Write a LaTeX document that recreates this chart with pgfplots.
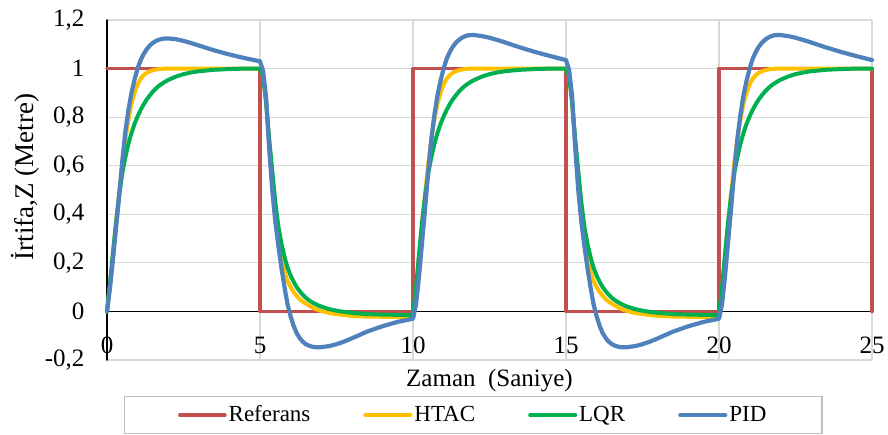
\documentclass[border=0pt]{standalone}
\usepackage{fontspec}
\setmainfont{Liberation Serif}
\usepackage{pgfplots}
\usepackage{pgfplotstable}
\pgfplotsset{compat=1.18}

\definecolor{refred}{HTML}{C0504D}
\definecolor{htacyellow}{HTML}{FFC000}
\definecolor{lqrgreen}{HTML}{00B050}
\definecolor{pidblue}{HTML}{4F81BD}
\definecolor{gridgray}{HTML}{D9D9D9}
\definecolor{framegray}{HTML}{BFBFBF}

% reference altitude (square wave)
\pgfplotstableread{
t ref
0 1
5 1
5 0
10 0
10 1
15 1
15 0
20 0
20 1
25 1
25 0
}\reftable

% responses of the three controllers
\pgfplotstableread{
t pid htac lqr
0 0 0 0
0.1 0.10 0.11 0.12
0.2 0.22 0.24 0.25
0.3 0.35 0.37 0.37
0.4 0.48 0.49 0.48
0.5 0.62 0.61 0.57
0.6 0.74 0.71 0.635
0.7 0.83 0.79 0.69
0.8 0.90 0.855 0.735
0.9 0.955 0.90 0.772
1.0 1.0 0.935 0.803
1.1 1.035 0.958 0.83
1.2 1.06 0.973 0.853
1.3 1.08 0.983 0.873
1.4 1.095 0.989 0.89
1.5 1.106 0.993 0.905
1.6 1.114 0.996 0.918
1.7 1.119 0.998 0.929
1.8 1.122 0.999 0.938
1.9 1.124 1.0 0.946
2.0 1.124 1.0 0.953
2.25 1.121 1.0 0.967
2.5 1.114 1.0 0.977
2.75 1.105 1.0 0.984
3.0 1.095 1.0 0.989
3.5 1.075 1.0 0.995
4.0 1.058 1.0 0.998
4.5 1.043 1.0 1.0
5 1.03 1.0 1.0
5.1 0.99 0.97 0.97
5.2 0.88 0.86 0.86
5.3 0.67 0.70 0.71
5.4 0.50 0.55 0.58
5.5 0.37 0.41 0.45
5.6 0.27 0.30 0.35
5.7 0.18 0.22 0.28
5.8 0.10 0.165 0.225
5.9 0.03 0.125 0.18
6.0 -0.02 0.10 0.148
6.1 -0.06 0.08 0.122
6.2 -0.09 0.064 0.10
6.3 -0.11 0.05 0.083
6.4 -0.125 0.04 0.068
6.5 -0.135 0.032 0.056
6.6 -0.141 0.024 0.046
6.7 -0.145 0.017 0.038
6.8 -0.147 0.011 0.031
6.9 -0.148 0.006 0.025
7.0 -0.147 0.002 0.02
7.25 -0.143 -0.006 0.01
7.5 -0.135 -0.011 0.003
7.75 -0.124 -0.015 -0.002
8.0 -0.111 -0.018 -0.006
8.5 -0.083 -0.021 -0.011
9.0 -0.061 -0.022 -0.013
9.5 -0.043 -0.023 -0.014
10 -0.03 -0.023 -0.015
10.1 0.03 0.09 0.10
10.2 0.15 0.23 0.24
10.3 0.29 0.37 0.37
10.4 0.43 0.49 0.48
10.5 0.58 0.61 0.57
10.6 0.71 0.71 0.635
10.7 0.81 0.79 0.69
10.8 0.89 0.855 0.735
10.9 0.95 0.90 0.772
11.0 1.0 0.935 0.803
11.1 1.04 0.958 0.83
11.2 1.068 0.973 0.853
11.3 1.09 0.983 0.873
11.4 1.106 0.989 0.89
11.5 1.118 0.993 0.905
11.6 1.127 0.996 0.918
11.7 1.133 0.998 0.929
11.8 1.137 0.999 0.938
11.9 1.138 1.0 0.946
12.0 1.138 1.0 0.953
12.25 1.134 1.0 0.967
12.5 1.127 1.0 0.977
12.75 1.118 1.0 0.984
13.0 1.108 1.0 0.989
13.5 1.087 1.0 0.995
14.0 1.068 1.0 0.998
14.5 1.051 1.0 1.0
15 1.035 1.0 1.0
15.1 0.995 0.97 0.97
15.2 0.885 0.86 0.86
15.3 0.675 0.70 0.71
15.4 0.50 0.55 0.58
15.5 0.37 0.41 0.45
15.6 0.27 0.30 0.35
15.7 0.18 0.22 0.28
15.8 0.10 0.165 0.225
15.9 0.03 0.125 0.18
16.0 -0.02 0.10 0.148
16.1 -0.06 0.08 0.122
16.2 -0.09 0.064 0.10
16.3 -0.11 0.05 0.083
16.4 -0.125 0.04 0.068
16.5 -0.135 0.032 0.056
16.6 -0.141 0.024 0.046
16.7 -0.145 0.017 0.038
16.8 -0.147 0.011 0.031
16.9 -0.148 0.006 0.025
17.0 -0.147 0.002 0.02
17.25 -0.143 -0.006 0.01
17.5 -0.135 -0.011 0.003
17.75 -0.124 -0.015 -0.002
18.0 -0.111 -0.018 -0.006
18.5 -0.083 -0.021 -0.011
19.0 -0.061 -0.022 -0.013
19.5 -0.043 -0.023 -0.014
20 -0.03 -0.023 -0.015
20.1 0.03 0.09 0.10
20.2 0.15 0.23 0.24
20.3 0.29 0.37 0.37
20.4 0.43 0.49 0.48
20.5 0.58 0.61 0.57
20.6 0.71 0.71 0.635
20.7 0.81 0.79 0.69
20.8 0.89 0.855 0.735
20.9 0.95 0.90 0.772
21.0 1.0 0.935 0.803
21.1 1.04 0.958 0.83
21.2 1.068 0.973 0.853
21.3 1.09 0.983 0.873
21.4 1.106 0.989 0.89
21.5 1.118 0.993 0.905
21.6 1.127 0.996 0.918
21.7 1.133 0.998 0.929
21.8 1.137 0.999 0.938
21.9 1.138 1.0 0.946
22.0 1.138 1.0 0.953
22.25 1.134 1.0 0.967
22.5 1.127 1.0 0.977
22.75 1.118 1.0 0.984
23.0 1.108 1.0 0.989
23.5 1.087 1.0 0.995
24.0 1.068 1.0 0.998
24.5 1.051 1.0 1.0
25 1.035 1.0 1.0
}\response

\begin{document}
\begin{tikzpicture}
\begin{axis}[
  scale only axis,
  width=382.5pt, height=170pt,
  xmin=0, xmax=25, ymin=-0.2, ymax=1.2,
  xtick={0,5,10,15,20,25},
  ytick={-0.2,0,0.2,0.4,0.6,0.8,1,1.2},
  clip=false,
  grid=major,
  major grid style={gridgray, line width=0.6pt},
  axis line style={draw=none},
  major tick length=0pt,
  /pgf/number format/use comma,
  /pgf/number format/assume math mode=true,
  tick label style={font=\fontsize{12.5}{14}\selectfont},
  yticklabel style={xshift=-7.8pt},
  xticklabel style={anchor=center, yshift=7.5pt},
  xlabel={Zaman\ \ (Saniye)},
  xlabel style={font=\fontsize{12.5}{14}\selectfont,
    at={(axis description cs:0.5,0)}, anchor=center, yshift=-10.5pt},
  ylabel={İrtifa,Z (Metre)},
  ylabel style={font=\fontsize{13.5}{15}\selectfont,
    at={(axis description cs:-0.1065,0.538)}, anchor=center},
  legend columns=4,
  legend image code/.code={\draw[#1] (0pt,0pt) -- (22.5pt,0pt);},
  legend style={
    at={(axis description cs:0.0222,0)}, anchor=north west, yshift=-18pt,
    draw=framegray, line width=0.6pt,
    font=\fontsize{11.5}{13}\selectfont,
    inner xsep=26.75pt, inner ysep=2.5pt,
    nodes={inner xsep=1pt, inner ysep=2pt},
    /tikz/every even column/.append style={column sep=25.5pt},
  },
  every axis plot/.append style={line join=round, line cap=round},
]
% axis lines through the origin
\addplot[black, line width=0.75pt, forget plot] coordinates {(0,0) (25,0)};
\addplot[black, line width=0.75pt, forget plot] coordinates {(0,-0.2) (0,1.2)};

\addplot[refred, line width=1.8pt] table[x=t, y=ref] {\reftable};
\addlegendentry{Referans}
\addplot[htacyellow, line width=2pt] table[x=t, y=htac] {\response};
\addlegendentry{HTAC}
\addplot[lqrgreen, line width=2pt] table[x=t, y=lqr] {\response};
\addlegendentry{LQR}
\addplot[pidblue, line width=2.1pt] table[x=t, y=pid] {\response};
\addlegendentry{PID}

\coordinate (O) at (rel axis cs:0,0);
\end{axis}
\pgfresetboundingbox
\path (O) ++(-53.5pt,-37pt) rectangle ++(444pt,217pt);
\end{tikzpicture}
\end{document}
